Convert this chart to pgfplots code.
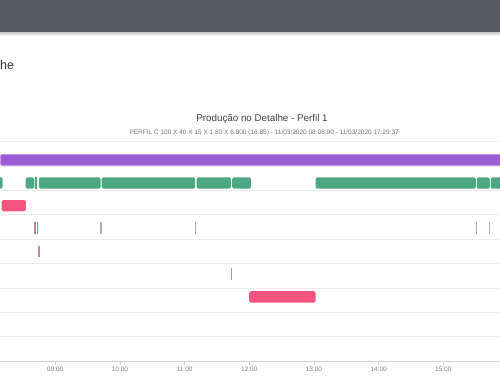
\documentclass[border=0pt]{standalone}
\usepackage{fontspec}
\setmainfont{Liberation Sans}
\usepackage{pgfplots}
\pgfplotsset{compat=1.18}
\definecolor{hdr}{HTML}{545B62}
\definecolor{cpurple}{HTML}{9B5CD6}
\definecolor{cgreen}{HTML}{4CA882}
\definecolor{cpink}{HTML}{F2547D}
\definecolor{cmauve}{HTML}{C98496}
\definecolor{cgrayl}{HTML}{B4ABAF}
\definecolor{gridc}{HTML}{EBEBEB}
\definecolor{axisc}{HTML}{D2D2D2}
\newcommand\seg[5]{\addplot[fill=#5, draw=none, rounded corners=1.6bp] coordinates {(#1,#3) (#2,#3) (#2,#4) (#1,#4)} -- cycle;}
\newcommand\tick[5]{\addplot[fill=#5, draw=none] coordinates {(#1,#3) (#2,#3) (#2,#4) (#1,#4)} -- cycle;}
\begin{document}
\begin{tikzpicture}
\path[use as bounding box] (0,0) rectangle (500bp,-383bp);
\clip (0,0) rectangle (500bp,-383bp);
\fill[white] (0,0) rectangle (500bp,-383bp);
\fill[hdr] (0,0) rectangle (500bp,-32bp);
\shade[top color=black!22, bottom color=white] (0,-32bp) rectangle (500bp,-36bp);
\node[anchor=base west, inner sep=0pt, font=\fontsize{12.5bp}{14bp}\selectfont, text=black!80] at (0bp,-69bp) {he};
\node[inner sep=0pt, font=\fontsize{9.8bp}{11bp}\selectfont, text=black!75] at (262bp,-119.3bp) {Produção no Detalhe - Perfil 1};
\node[inner sep=0pt, font=\fontsize{6.5bp}{8bp}\selectfont, text=black!55] at (264.2bp,-132.7bp) {PERFIL C 100 X 40 X 15 X 1.80 X 6.000 (16,85) - 11/03/2020 08:08:00 - 11/03/2020 17:29:37};
\begin{axis}[
  at={(0bp,-361bp)}, anchor=south west,
  width=500bp, height=219.3bp, scale only axis,
  xmin=8.1449, xmax=15.8765, ymin=0, ymax=219.3,
  axis line style={draw=none},
  ytick={24.4,48.7,73.1,97.5,121.8,146.2,170.6,194.9,219.3},
  yticklabels={},
  ymajorgrids, grid style={gridc, line width=0.8bp},
  major y tick style={draw=none},
  extra y ticks={0}, extra y tick labels={},
  extra y tick style={grid style={axisc, line width=0.8bp}, major tick style={draw=none}},
  xtick={9,10,11,12,13,14,15},
  xticklabels={09:00,10:00,11:00,12:00,13:00,14:00,15:00},
  tick align=outside, xtick pos=bottom, ytick pos=left,
  major tick length=4bp,
  x tick style={axisc, line width=0.8bp},
  /pgf/number format/assume math mode=true,
  xticklabel style={font=\fontsize{6.5bp}{7bp}\selectfont, text=black!50, inner sep=0pt, yshift=-1.5bp},
]
% row 1 purple
\seg{8.15}{17.5}{195.3}{206.7}{cpurple}
% row 2 green
\seg{8.0}{8.187}{172.3}{183.7}{cgreen}
\seg{8.543}{8.675}{172.3}{183.7}{cgreen}
\tick{8.693}{8.718}{172.3}{183.7}{cgreen}
\seg{8.748}{9.702}{172.3}{183.7}{cgreen}
\seg{9.717}{11.164}{172.3}{183.7}{cgreen}
\seg{11.185}{11.716}{172.3}{183.7}{cgreen}
\seg{11.736}{12.025}{172.3}{183.7}{cgreen}
\seg{13.025}{15.502}{172.3}{183.7}{cgreen}
\seg{15.518}{15.719}{172.3}{183.7}{cgreen}
\seg{15.734}{16.5}{172.3}{183.7}{cgreen}
% row 3 pink
\seg{8.171}{8.545}{149.7}{161.0}{cpink}
% row 4 marks
\tick{8.673}{8.697}{127.0}{138.7}{cmauve}
\tick{8.711}{8.735}{127.0}{138.7}{cmauve}
\tick{9.697}{9.719}{127.0}{138.7}{cgrayl}
\tick{11.160}{11.182}{127.0}{138.7}{cgrayl}
\tick{15.500}{15.522}{127.0}{138.7}{cgrayl}
\tick{15.707}{15.729}{127.0}{138.7}{cgrayl}
% row 5
\tick{8.735}{8.760}{103.7}{115.3}{cmauve}
% row 6
\tick{11.710}{11.738}{81.4}{93.0}{cmauve}
% row 7 pink
\seg{11.999}{13.026}{58.4}{69.8}{cpink}
\end{axis}
\end{tikzpicture}
\end{document}
